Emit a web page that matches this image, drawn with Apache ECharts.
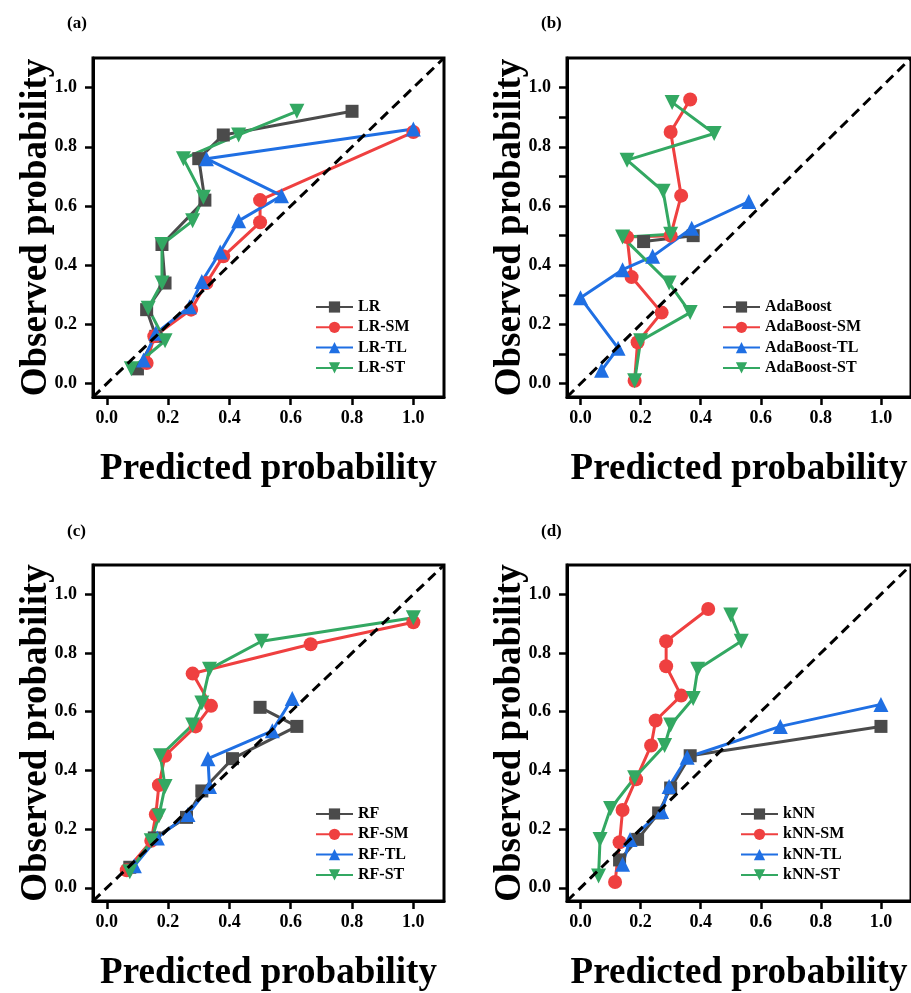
<!DOCTYPE html>
<html lang="en">
<head>
<meta charset="UTF-8">
<title>Calibration curves</title>
<script src="https://cdn.jsdelivr.net/npm/echarts@6.0.0/dist/echarts.min.js"></script>
<style>
html, body { margin: 0; padding: 0; background: #fff; }
#chart { width: 911px; height: 993px; }
</style>
</head>
<body>
<div id="chart"></div>
<script>
const panelLabels = ['(a)', '(b)', '(c)', '(d)'];
const suffixes = ['', '-SM', '-TL', '-ST'];
const models = ['LR', 'AdaBoost', 'RF', 'kNN'];
const tickValues = [0, 0.2, 0.4, 0.6, 0.8, 1.0];
const minorTickValues = [0, 0.1, 0.2, 0.3, 0.4, 0.5, 0.6, 0.7, 0.8, 0.9, 1.0];
const diagonal = [[-0.045, -0.045], [1.1, 1.1]];

// [predicted, observed] pairs, in the order they are joined
const lr = [[0.10, 0.05], [0.16, 0.16], [0.13, 0.25], [0.19, 0.34], [0.18, 0.47], [0.32, 0.62], [0.30, 0.76], [0.38, 0.84], [0.80, 0.92]];
const lrSM = [[0.13, 0.07], [0.155, 0.16], [0.275, 0.25], [0.325, 0.34], [0.38, 0.43], [0.50, 0.545], [0.50, 0.62], [1.0, 0.85]];
const lrTL = [[0.12, 0.08], [0.16, 0.17], [0.27, 0.26], [0.31, 0.345], [0.37, 0.445], [0.43, 0.55], [0.57, 0.635], [0.325, 0.76], [1.0, 0.86]];
const lrST = [[0.08, 0.05], [0.19, 0.145], [0.135, 0.255], [0.18, 0.34], [0.18, 0.47], [0.28, 0.55], [0.315, 0.63], [0.25, 0.76], [0.43, 0.84], [0.62, 0.92]];

const ada = [[0.21, 0.48], [0.375, 0.50]];
const adaSM = [[0.18, 0.01], [0.19, 0.14], [0.27, 0.24], [0.17, 0.36], [0.155, 0.495], [0.30, 0.50], [0.335, 0.635], [0.30, 0.85], [0.365, 0.96]];
const adaTL = [[0.07, 0.045], [0.125, 0.12], [0.0, 0.29], [0.14, 0.385], [0.24, 0.43], [0.37, 0.525], [0.56, 0.615]];
const adaST = [[0.18, 0.01], [0.20, 0.145], [0.365, 0.24], [0.295, 0.34], [0.14, 0.495], [0.30, 0.505], [0.275, 0.65], [0.155, 0.755], [0.445, 0.845], [0.305, 0.95]];

const rf = [[0.075, 0.07], [0.155, 0.17], [0.26, 0.24], [0.31, 0.33], [0.41, 0.44], [0.62, 0.55], [0.50, 0.615]];
const rfSM = [[0.065, 0.06], [0.145, 0.16], [0.16, 0.25], [0.17, 0.35], [0.19, 0.45], [0.29, 0.55], [0.34, 0.62], [0.28, 0.73], [0.665, 0.83], [1.0, 0.905]];
const rfTL = [[0.09, 0.075], [0.165, 0.17], [0.265, 0.25], [0.335, 0.345], [0.33, 0.44], [0.54, 0.535], [0.605, 0.645]];
const rfST = [[0.075, 0.055], [0.145, 0.16], [0.17, 0.245], [0.19, 0.345], [0.175, 0.45], [0.28, 0.555], [0.31, 0.63], [0.335, 0.745], [0.505, 0.84], [1.0, 0.92]];

const knn = [[0.13, 0.095], [0.19, 0.165], [0.26, 0.255], [0.30, 0.34], [0.365, 0.45], [1.0, 0.55]];
const knnSM = [[0.115, 0.02], [0.13, 0.155], [0.14, 0.265], [0.185, 0.37], [0.235, 0.485], [0.25, 0.57], [0.335, 0.655], [0.285, 0.755], [0.285, 0.84], [0.425, 0.95]];
const knnTL = [[0.14, 0.08], [0.165, 0.165], [0.27, 0.26], [0.295, 0.345], [0.355, 0.445], [0.665, 0.55], [1.0, 0.625]];
const knnST = [[0.06, 0.04], [0.065, 0.165], [0.10, 0.27], [0.18, 0.375], [0.28, 0.485], [0.30, 0.555], [0.375, 0.645], [0.39, 0.745], [0.535, 0.84], [0.50, 0.93]];

const panelData = [
  [lr, lrSM, lrTL, lrST],
  [ada, adaSM, adaTL, adaST],
  [rf, rfSM, rfTL, rfST],
  [knn, knnSM, knnTL, knnST]
];

const colors = ['#4b4b4b', '#ef4040', '#1f6fe3', '#33a862'];
const symbols = ['rect', 'circle', 'triangle', 'path://M0,0 L10,0 L5,9 Z'];
const symbolSizes = [13, 14, 15, 15];
const font = '"Liberation Serif", "Times New Roman", serif';

const grids = [
  { left: 93, top: 58 },
  { left: 567, top: 58 },
  { left: 93, top: 565 },
  { left: 567, top: 565 }
];
const legendPos = [
  { left: 315, top: 299 },
  { left: 722, top: 299 },
  { left: 315, top: 806 },
  { left: 740, top: 806 }
];
const labelPos = [[75, 25], [549, 25], [75, 533], [549, 533]];

const chart = echarts.init(document.getElementById('chart'));
const option = {
  animation: false,
  backgroundColor: '#fff',
  grid: [],
  xAxis: [],
  yAxis: [],
  legend: [],
  series: [],
  graphic: []
};

grids.forEach((g, i) => {
  option.grid.push({
    left: g.left, top: g.top, width: 351, height: 339,
    show: true, borderColor: '#000', borderWidth: 3, backgroundColor: '#fff'
  });
  option.xAxis.push({
    type: 'value', gridIndex: i, min: -0.045, max: 1.1,
    name: 'Predicted probability', nameLocation: 'middle', nameGap: 54, nameMoveOverlap: false,
    nameTextStyle: { fontFamily: font, fontWeight: 'bold', fontSize: 37, color: '#000' },
    axisLine: { show: true, onZero: false, lineStyle: { color: '#000', width: 3 } },
    axisTick: { show: true, length: 8, customValues: tickValues, lineStyle: { color: '#000', width: 2.5 } },
    axisLabel: {
      customValues: tickValues, margin: 12, formatter: v => v.toFixed(1),
      fontFamily: font, fontWeight: 'bold', fontSize: 18, color: '#000'
    },
    splitLine: { show: false }
  });
  option.yAxis.push({
    type: 'value', gridIndex: i, min: -0.045, max: 1.1,
    name: 'Observed probability', nameLocation: 'middle', nameGap: 38, nameMoveOverlap: false,
    nameTextStyle: { fontFamily: font, fontWeight: 'bold', fontSize: 37, color: '#000' },
    axisLine: { show: true, onZero: false, lineStyle: { color: '#000', width: 3 } },
    axisTick: { show: true, length: 8, customValues: i === 1 ? minorTickValues : tickValues, lineStyle: { color: '#000', width: 2.5 } },
    axisLabel: {
      customValues: tickValues, margin: 16, formatter: v => v.toFixed(1),
      fontFamily: font, fontWeight: 'bold', fontSize: 18, color: '#000'
    },
    splitLine: { show: false }
  });
  const names = suffixes.map(s => models[i] + s);
  option.legend.push({
    data: names, orient: 'vertical', left: legendPos[i].left, top: legendPos[i].top,
    padding: 0, itemWidth: 37, itemHeight: 14, itemGap: 4.3,
    textStyle: { fontFamily: font, fontWeight: 'bold', fontSize: 16, color: '#000' }
  });
  panelData[i].forEach((d, k) => {
    option.series.push({
      name: names[k], type: 'line', xAxisIndex: i, yAxisIndex: i, data: d,
      symbol: symbols[k], symbolSize: symbolSizes[k], showAllSymbol: true,
      lineStyle: { color: colors[k], width: 3 },
      itemStyle: { color: colors[k] }
    });
  });
  option.series.push({
    name: 'diag' + i, type: 'line', xAxisIndex: i, yAxisIndex: i, data: diagonal,
    symbol: 'none', silent: true, z: 5,
    lineStyle: { color: '#000', width: 3, type: [10, 6] }
  });
  option.graphic.push({
    type: 'text', left: labelPos[i][0] - 8, top: labelPos[i][1] - 10,
    style: { text: panelLabels[i], fontFamily: font, fontWeight: 'bold', fontSize: 17, fill: '#000' }
  });
});

chart.setOption(option);
</script>
</body>
</html>
